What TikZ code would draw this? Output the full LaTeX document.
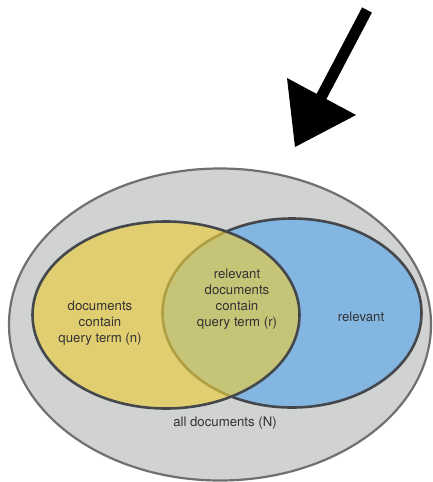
\documentclass[tikz,border=0pt]{standalone}
\usepackage{fontspec}
\setmainfont{TeX Gyre Heros}
\begin{document}
\begin{tikzpicture}[x=1pt,y=-1pt,
  settext/.style={text=labelgray, align=center, font=\fontsize{13.2}{16}\selectfont, inner sep=0pt},
  setline/.style={draw=rimgray, line width=2.6pt}]
\definecolor{outerfill}{HTML}{D1D2D2}
\definecolor{outerrim}{HTML}{707070}
\definecolor{rimgray}{HTML}{44484D}
\definecolor{yellowset}{HTML}{EACD3E}
\definecolor{blueset}{HTML}{84B6E2}
\definecolor{labelgray}{HTML}{333333}
\useasboundingbox (0,0) rectangle (433,482);

% pointer arrow
\fill[black] (362.1,7.4) -- (316.6,93.9) -- (287,78) -- (295,147) -- (356,115)
  -- (326.4,99.1) -- (371.9,12.6) -- cycle;

% universe of documents
\draw[fill=outerfill, draw=outerrim, line width=2.2pt] (220,324.5) ellipse [x radius=211, y radius=156];

% relevant set, then query-term set laid over it
\draw[setline, fill=blueset] (292,313) ellipse [x radius=129.5, y radius=94.5];
\fill[yellowset, fill opacity=0.65] (166,315) ellipse [x radius=133.5, y radius=93.5];
\draw[setline] (166,315) ellipse [x radius=133.5, y radius=93.5];

\node[settext] (ndocs) at (100,322.7) {documents\\contain\\query term (n)};
\node[settext] (rdocs) at (237,298.8) {relevant\\documents\\contain\\query term (r)};
\node[settext] (rel) at (361,317) {relevant};
\node[settext] (alldocs) at (225,423) {all documents (N)};
\end{tikzpicture}
\end{document}
